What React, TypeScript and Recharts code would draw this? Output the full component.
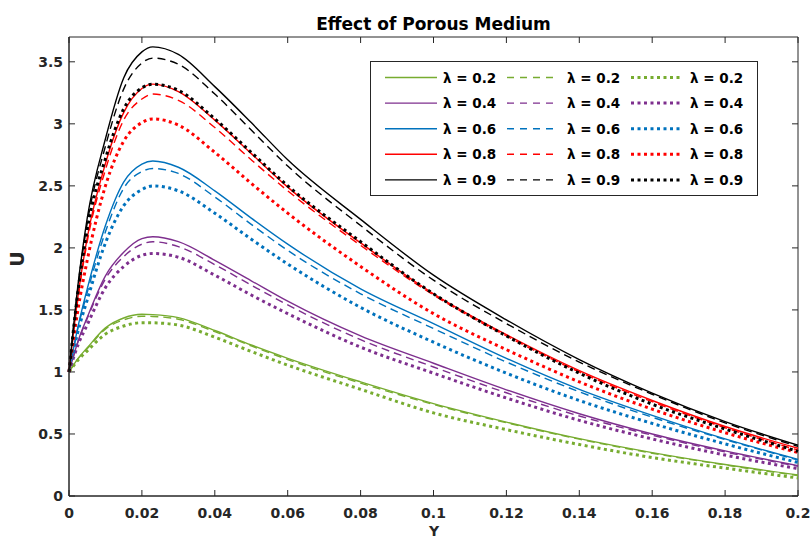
import { LineChart, Line, XAxis, YAxis, ReferenceArea } from "recharts"

const yGrid = [0, 0.0025, 0.005, 0.01, 0.015, 0.02, 0.023, 0.03, 0.04, 0.05, 0.06, 0.08, 0.1, 0.12, 0.14, 0.16, 0.18, 0.2]

// lambda = 0.2 (green)
const greenSolid = [1, 1.11, 1.195, 1.355, 1.435, 1.465, 1.462, 1.438, 1.334, 1.217, 1.11, 0.92, 0.745, 0.596, 0.462, 0.35, 0.254, 0.17]
const greenDash = [1, 1.107, 1.188, 1.345, 1.42, 1.449, 1.447, 1.425, 1.325, 1.21, 1.1, 0.91, 0.738, 0.59, 0.458, 0.345, 0.25, 0.165]
const greenDot = [1, 1.097, 1.17, 1.305, 1.37, 1.397, 1.396, 1.378, 1.28, 1.165, 1.055, 0.86, 0.67, 0.535, 0.415, 0.31, 0.225, 0.145]
// lambda = 0.4 (purple)
const purpleSolid = [1, 1.25, 1.44, 1.775, 1.965, 2.075, 2.09, 2.05, 1.9, 1.735, 1.57, 1.29, 1.07, 0.856, 0.663, 0.5, 0.364, 0.245]
const purpleDash = [1, 1.245, 1.43, 1.75, 1.93, 2.03, 2.05, 2.01, 1.865, 1.7, 1.54, 1.26, 1.04, 0.832, 0.645, 0.49, 0.355, 0.24]
const purpleDot = [1, 1.22, 1.38, 1.68, 1.85, 1.94, 1.955, 1.925, 1.78, 1.62, 1.47, 1.2, 0.99, 0.79, 0.61, 0.46, 0.33, 0.22]
// lambda = 0.6 (blue)
const blueSolid = [1, 1.37, 1.67, 2.18, 2.53, 2.675, 2.7, 2.65, 2.46, 2.24, 2.03, 1.67, 1.39, 1.11, 0.86, 0.65, 0.46, 0.295]
const blueDash = [1, 1.36, 1.64, 2.13, 2.48, 2.615, 2.64, 2.6, 2.41, 2.19, 1.98, 1.63, 1.35, 1.08, 0.84, 0.635, 0.455, 0.29]
const blueDot = [1, 1.33, 1.58, 2.04, 2.34, 2.47, 2.5, 2.46, 2.28, 2.07, 1.87, 1.52, 1.24, 0.99, 0.77, 0.585, 0.42, 0.27]
// lambda = 0.8 (red)
const redSolid = [1, 1.62, 2.08, 2.68, 3.09, 3.285, 3.32, 3.26, 3.03, 2.76, 2.49, 2.04, 1.63, 1.3, 1.01, 0.77, 0.56, 0.385]
const redDash = [1, 1.6, 2.05, 2.63, 3.03, 3.2, 3.24, 3.19, 2.97, 2.71, 2.46, 2.02, 1.62, 1.29, 1.0, 0.76, 0.55, 0.37]
const redDot = [1, 1.51, 1.9, 2.5, 2.86, 3.01, 3.04, 2.99, 2.77, 2.52, 2.28, 1.85, 1.47, 1.18, 0.92, 0.7, 0.51, 0.35]
// lambda = 0.9 (black)
const blackSolid = [1, 1.71, 2.24, 2.88, 3.37, 3.58, 3.62, 3.56, 3.3, 3.01, 2.71, 2.23, 1.78, 1.42, 1.1, 0.83, 0.6, 0.41]
const blackDash = [1, 1.69, 2.2, 2.82, 3.28, 3.49, 3.53, 3.48, 3.24, 2.95, 2.66, 2.18, 1.74, 1.39, 1.08, 0.82, 0.59, 0.4]
const blackDot = [1, 1.66, 2.15, 2.72, 3.12, 3.29, 3.32, 3.27, 3.04, 2.77, 2.5, 2.05, 1.63, 1.29, 0.99, 0.74, 0.54, 0.36]

const lambdas = ["0.2", "0.4", "0.6", "0.8", "0.9"]
const colors = ["#77AC30", "#7E2F8E", "#0072BD", "#FF0000", "#000000"]

const xTicks = [0, 0.02, 0.04, 0.06, 0.08, 0.1, 0.12, 0.14, 0.16, 0.18, 0.2]
const xTickLabels = ["0", "0.02", "0.04", "0.06", "0.08", "0.1", "0.12", "0.14", "0.16", "0.18", "0.2"]
const yTicks = [0, 0.5, 1, 1.5, 2, 2.5, 3, 3.5]
const yTickLabels = ["0", "0.5", "1", "1.5", "2", "2.5", "3", "3.5"]

const seriesByLambda = [
  [greenSolid, greenDash, greenDot],
  [purpleSolid, purpleDash, purpleDot],
  [blueSolid, blueDash, blueDot],
  [redSolid, redDash, redDot],
  [blackSolid, blackDash, blackDot],
]

const styles = [
  { dash: undefined, width: 1.4 },
  { dash: "8 5", width: 1.4 },
  { dash: "3 3.5", width: 3 },
]

const rows = yGrid.map((y, i) => {
  const row: Record<string, number> = { y }
  seriesByLambda.forEach((group, li) => {
    group.forEach((arr, si) => {
      row[`s${li}_${si}`] = arr[i]
    })
  })
  return row
})

const FONT = "'DejaVu Sans', sans-serif"
const AXIS = "#262626"
const PLOT_TOP = 37
const PLOT_RIGHT = 798

// matlab style: ticks point into the box, on all four sides
function BottomTick(props: any) {
  const { x, y, index } = props
  return (
    <g>
      <line x1={x} x2={x} y1={y} y2={y - 6} stroke={AXIS} />
      <line x1={x} x2={x} y1={PLOT_TOP} y2={PLOT_TOP + 6} stroke={AXIS} />
      <text x={x} y={y + 22} textAnchor="middle" fontFamily={FONT} fontWeight="bold" fontSize={14} fill={AXIS}>
        {xTickLabels[index]}
      </text>
    </g>
  )
}

function LeftTick(props: any) {
  const { x, y, index } = props
  return (
    <g>
      <line x1={x} x2={x + 6} y1={y} y2={y} stroke={AXIS} />
      <line x1={PLOT_RIGHT} x2={PLOT_RIGHT - 6} y1={y} y2={y} stroke={AXIS} />
      <text x={x - 6} y={y + 5} textAnchor="end" fontFamily={FONT} fontWeight="bold" fontSize={14} fill={AXIS}>
        {yTickLabels[index]}
      </text>
    </g>
  )
}

function LegendBox() {
  const cols = [
    { x1: 385, x2: 437, tx: 443 },
    { x1: 507, x2: 555, tx: 567 },
    { x1: 631, x2: 683, tx: 690 },
  ]
  const samples = [undefined, "7 6", "3 3.5"]
  return (
    <g>
      <rect x={370.5} y={61.5} width={387} height={134} fill="#fff" stroke={AXIS} strokeWidth={1} />
      {lambdas.map((lam, li) => {
        const cy = 77.5 + li * 25.6
        return cols.map((c, si) => (
          <g key={`${li}-${si}`}>
            <line
              x1={c.x1}
              x2={c.x2}
              y1={cy}
              y2={cy}
              stroke={colors[li]}
              strokeWidth={styles[si].width}
              strokeDasharray={samples[si]}
            />
            <text x={c.tx} y={cy + 5} fontFamily={FONT} fontWeight="bold" fontSize={13.5} fill="#000">
              λ = {lam}
            </text>
          </g>
        ))
      })}
    </g>
  )
}

export default function App() {
  return (
    <div style={{ position: "relative", width: 810, height: 540, background: "#fff" }}>
      <style>{`body{margin:0}`}</style>
      <LineChart width={810} height={540} data={rows} margin={{ top: PLOT_TOP, right: 810 - PLOT_RIGHT, bottom: 0, left: 0 }}>
        <XAxis
          dataKey="y"
          type="number"
          domain={[0, 0.2]}
          ticks={xTicks}
          height={44}
          stroke={AXIS}
          tickSize={0}
          tickMargin={0}
          tickLine={false}
          tick={<BottomTick />}
          interval={0}
        />
        <YAxis
          type="number"
          domain={[0, 3.7]}
          ticks={yTicks}
          width={69}
          stroke={AXIS}
          tickSize={0}
          tickMargin={0}
          tickLine={false}
          tick={<LeftTick />}
          interval={0}
          allowDataOverflow
        />
        <ReferenceArea x1={0} x2={0.2} y1={0} y2={3.7} fill="none" stroke={AXIS} strokeWidth={1} ifOverflow="visible" />
        {seriesByLambda.map((group, li) =>
          group.map((_, si) => (
            <Line
              key={`s${li}_${si}`}
              dataKey={`s${li}_${si}`}
              type="monotone"
              stroke={colors[li]}
              strokeWidth={styles[si].width}
              strokeDasharray={styles[si].dash}
              dot={false}
              activeDot={false}
              isAnimationActive={false}
            />
          ))
        )}
      </LineChart>
      <svg width={810} height={540} style={{ position: "absolute", left: 0, top: 0, pointerEvents: "none" }}>
        <text x={433.5} y={30} textAnchor="middle" fontFamily={FONT} fontWeight="bold" fontSize={17} fill="#000">
          Effect of Porous Medium
        </text>
        <text
          x={24}
          y={259}
          textAnchor="middle"
          transform="rotate(-90 24 259)"
          fontFamily={FONT}
          fontWeight="bold"
          fontSize={19}
          fill={AXIS}
        >
          U
        </text>
        <text x={434} y={536} textAnchor="middle" fontFamily={FONT} fontWeight="bold" fontSize={14} fill={AXIS}>
          Y
        </text>
        <LegendBox />
      </svg>
    </div>
  )
}
